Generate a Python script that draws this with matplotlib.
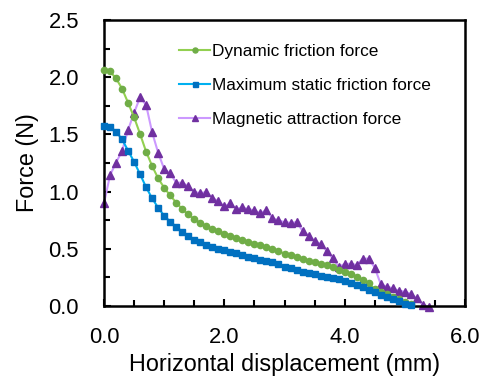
import numpy as np
import matplotlib
matplotlib.use('Agg')
import matplotlib.pyplot as plt
from matplotlib.ticker import MultipleLocator

plt.rcParams['font.family'] = ['Liberation Sans', 'DejaVu Sans']

# Horizontal displacement (mm), sampled every 0.1 mm
x_dynamic = np.round(np.arange(0, 52) * 0.1, 1)
x_static = np.round(np.arange(0, 52) * 0.1, 1)
x_magnetic = np.round(np.arange(0, 55) * 0.1, 1)

dynamic = [2.065, 2.05, 1.99, 1.90, 1.777, 1.65, 1.503, 1.349, 1.224, 1.116,
           1.034, 0.966, 0.904, 0.847, 0.800, 0.758, 0.727, 0.696, 0.673, 0.653,
           0.632, 0.615, 0.596, 0.580, 0.562, 0.545, 0.529, 0.512, 0.497, 0.479,
           0.458, 0.443, 0.426, 0.411, 0.396, 0.385, 0.367, 0.355, 0.338, 0.315,
           0.300, 0.283, 0.256, 0.224, 0.198, 0.146, 0.125, 0.105, 0.082, 0.059,
           0.038, 0.017]

static = [1.576, 1.567, 1.524, 1.457, 1.358, 1.261, 1.151, 1.038, 0.941, 0.859,
          0.789, 0.737, 0.693, 0.650, 0.612, 0.577, 0.557, 0.536, 0.518, 0.501,
          0.490, 0.472, 0.460, 0.443, 0.431, 0.417, 0.405, 0.393, 0.382, 0.365,
          0.345, 0.328, 0.315, 0.300, 0.288, 0.277, 0.265, 0.256, 0.247, 0.236,
          0.221, 0.205, 0.186, 0.166, 0.142, 0.120, 0.096, 0.082, 0.061, 0.041,
          0.020, 0.005]

magnetic = [0.898, 1.142, 1.254, 1.354, 1.538, 1.690, 1.824, 1.757, 1.518, 1.340,
            1.197, 1.160, 1.078, 1.078, 1.049, 0.994, 0.989, 0.994, 0.947, 0.915,
            0.871, 0.896, 0.848, 0.862, 0.846, 0.836, 0.810, 0.842, 0.767, 0.750,
            0.732, 0.728, 0.732, 0.658, 0.615, 0.571, 0.542, 0.481, 0.417, 0.344,
            0.367, 0.370, 0.358, 0.414, 0.414, 0.335, 0.190, 0.169, 0.155, 0.134,
            0.125, 0.105, 0.067, 0.009, -0.005]

fig = plt.figure(figsize=(4.83, 3.76), dpi=100)
ax = fig.add_axes([104 / 483, 1 - 306 / 376, 361 / 483, 286 / 376])

ax.plot(x_dynamic, dynamic, color='#92d050', lw=1.5, marker='o', ms=4.5,
        mfc='#70ad47', mec='#70ad47', label='Dynamic friction force', clip_on=False, zorder=3)
ax.plot(x_static, static, color='#00b0f0', lw=1.5, marker='s', ms=4.5,
        mfc='#0070c0', mec='#0070c0', label='Maximum static friction force', clip_on=False, zorder=3)
ax.plot(x_magnetic, magnetic, color='#cc99ff', lw=1.5, marker='^', ms=5.5,
        mfc='#7030a0', mec='#7030a0', label='Magnetic attraction force', clip_on=False, zorder=2)

ax.set_xlim(0, 6)
ax.set_ylim(0, 2.5)
ax.xaxis.set_major_locator(MultipleLocator(2))
ax.xaxis.set_minor_locator(MultipleLocator(0.5))
ax.yaxis.set_major_locator(MultipleLocator(0.5))
ax.yaxis.set_minor_locator(MultipleLocator(0.25))
ax.xaxis.set_major_formatter(plt.FormatStrFormatter('%.1f'))
ax.yaxis.set_major_formatter(plt.FormatStrFormatter('%.1f'))
ax.tick_params(which='both', direction='in', width=1.5, labelsize=15.8,
               top=False, right=False)
ax.tick_params(axis='x', which='major', pad=15)
ax.tick_params(axis='y', which='major', pad=18)
ax.tick_params(which='major', length=5)
ax.tick_params(which='minor', length=4)
for s in ax.spines.values():
    s.set_linewidth(1.8)

ax.set_xlabel('Horizontal displacement (mm)', fontsize=16.8, labelpad=4)
ax.set_ylabel('Force (N)', fontsize=16.8, labelpad=7)

leg = ax.legend(loc='upper left', bbox_to_anchor=(0.19, 0.94), frameon=False,
                fontsize=12.4, handlelength=1.8, handletextpad=0.1,
                labelspacing=1.1, markerscale=0.8, borderaxespad=0)

fig.savefig('out.png', dpi=100)
